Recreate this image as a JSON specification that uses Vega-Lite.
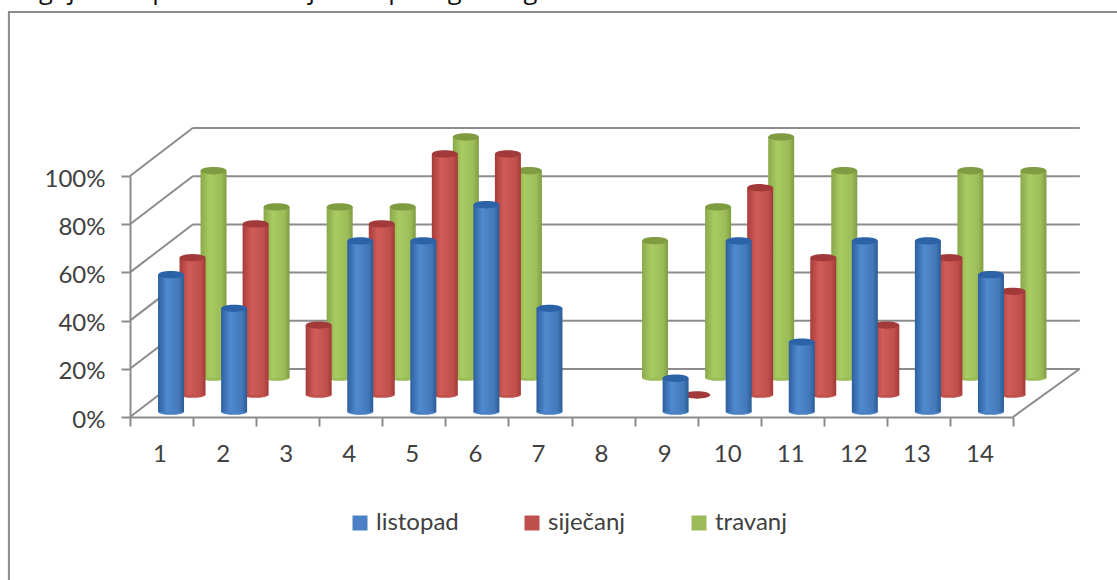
{"$schema":"https://vega.github.io/schema/vega-lite/v6.json","width":883,"height":241,"autosize":{"type":"none"},"padding":{"left":130,"top":176,"right":104,"bottom":163},"background":"white","view":{"stroke":null},
"title":{"text":"odgojne skupine rastao tijekom pedagoške godine.","anchor":"start","frame":"group","dx":-122,"offset":7,"font":"Open Sans","fontSize":25.5,"fontWeight":"normal","color":"#111111"},
"config":{"font":"Lato"},
"datasets":{
"bars":[
{"cat":"1","series":"listopad","pct":57},{"cat":"2","series":"listopad","pct":43},{"cat":"4","series":"listopad","pct":71},{"cat":"5","series":"listopad","pct":71},{"cat":"6","series":"listopad","pct":86},{"cat":"7","series":"listopad","pct":43},{"cat":"9","series":"listopad","pct":14},{"cat":"10","series":"listopad","pct":71},{"cat":"11","series":"listopad","pct":29},{"cat":"12","series":"listopad","pct":71},{"cat":"13","series":"listopad","pct":71},{"cat":"14","series":"listopad","pct":57},
{"cat":"1","series":"siječanj","pct":57},{"cat":"2","series":"siječanj","pct":71},{"cat":"3","series":"siječanj","pct":29},{"cat":"4","series":"siječanj","pct":71},{"cat":"5","series":"siječanj","pct":100},{"cat":"6","series":"siječanj","pct":100},{"cat":"9","series":"siječanj","pct":0},{"cat":"10","series":"siječanj","pct":86},{"cat":"11","series":"siječanj","pct":57},{"cat":"12","series":"siječanj","pct":29},{"cat":"13","series":"siječanj","pct":57},{"cat":"14","series":"siječanj","pct":43},
{"cat":"1","series":"travanj","pct":86},{"cat":"2","series":"travanj","pct":71},{"cat":"3","series":"travanj","pct":71},{"cat":"4","series":"travanj","pct":71},{"cat":"5","series":"travanj","pct":100},{"cat":"6","series":"travanj","pct":86},{"cat":"8","series":"travanj","pct":57},{"cat":"9","series":"travanj","pct":71},{"cat":"10","series":"travanj","pct":100},{"cat":"11","series":"travanj","pct":86},{"cat":"13","series":"travanj","pct":86},{"cat":"14","series":"travanj","pct":86}],
"grid":[{"p":0},{"p":20},{"p":40},{"p":60},{"p":80},{"p":100}],
"walls":[{"l":"a","d":0,"p":0},{"l":"a","d":1,"p":20},{"l":"b","d":0,"p":20},{"l":"b","d":1,"p":40},{"l":"c","d":0,"p":40},{"l":"c","d":1,"p":60},{"l":"d","d":0,"p":60},{"l":"d","d":1,"p":80},{"l":"e","d":0,"p":80},{"l":"e","d":1,"p":100},{"l":"f","d":0,"p":100},{"l":"f","d":1,"p":120},{"l":"g","d":14,"p":0},{"l":"g","d":15.06,"p":20}]},
"layer":[
{"layer":[
{"data":{"values":[{}]},"mark":{"type":"rect","fillOpacity":0,"stroke":"#8c8c8c","strokeWidth":2},"encoding":{"x":{"datum":-1.92,"type":"quantitative","scale":{"domain":[0,14],"nice":false,"zero":false},"axis":null},"x2":{"datum":16},"y":{"datum":168,"type":"quantitative","scale":{"domain":[0,100],"nice":false},"axis":{"values":[0,20,40,60,80,100],"labelExpr":"datum.value + '%'","domainColor":"#8c8c8c","domainWidth":2,"tickColor":"#8c8c8c","tickWidth":2,"tickSize":9,"labelPadding":16,"labelOffset":3,"labelFont":"Lato","labelFontSize":24,"labelColor":"#404040","grid":false,"title":null}},"y2":{"datum":-100}}},
{"data":{"name":"walls"},"mark":{"type":"line","color":"#8c8c8c","strokeWidth":2,"strokeCap":"butt"},"encoding":{"x":{"field":"d","type":"quantitative"},"y":{"field":"p","type":"quantitative"},"detail":{"field":"l"}}},
{"data":{"name":"grid"},"mark":{"type":"rule","color":"#8c8c8c","strokeWidth":2,"yOffset":-48},"encoding":{"x":{"datum":1,"type":"quantitative"},"x2":{"datum":15.06},"y":{"field":"p","type":"quantitative"}}}
]},
{"layer":[
{"data":{"name":"bars"},"transform":[{"filter":"datum.series === 'travanj'"}],"layer":[
{"mark":{"type":"point","filled":true,"opacity":1,"size":676,"xOffset":52,"yOffset":-39,"shape":"M-1,0 A1,0.22 0 1,0 1,0 A1,0.22 0 1,0 -1,0 Z"},"encoding":{"x":{"field":"cat","type":"nominal","sort":["1","2","3","4","5","6","7","8","9","10","11","12","13","14"],"scale":{"domain":["1","2","3","4","5","6","7","8","9","10","11","12","13","14"],"paddingInner":0,"paddingOuter":0},"axis":{"orient":"bottom","title":null,"labelAngle":0,"tickBand":"extent","domainColor":"#8c8c8c","domainWidth":2,"tickColor":"#8c8c8c","tickWidth":2,"tickSize":9,"labelPadding":16,"labelOffset":-2,"labelFont":"Lato","labelFontSize":24,"labelColor":"#404040"}},"y":{"datum":0,"type":"quantitative"},"color":{"field":"series","type":"nominal","scale":{"domain":["listopad","siječanj","travanj"],"range":["#4a80c4","#c0504d","#9bbb59"]},"legend":{"orient":"none","legendX":218,"legendY":335,"direction":"horizontal","columns":3,"title":null,"symbolType":"square","symbolSize":225,"symbolStrokeWidth":0,"symbolOpacity":1,"labelFont":"Lato","labelFontSize":24,"labelColor":"#404040","labelOffset":4,"columnPadding":61}}}},
{"mark":{"type":"bar","size":26,"xOffset":52,"yOffset":-39,"fill":{"x1":0,"x2":1,"y1":0,"y2":0,"gradient":"linear","stops":[{"offset":0,"color":"#8aa84a"},{"offset":0.35,"color":"#a8cc62"},{"offset":0.8,"color":"#9bbc58"},{"offset":1,"color":"#7f9c42"}]}},"encoding":{"x":{"field":"cat","type":"nominal"},"y":{"field":"pct","type":"quantitative"}}},
{"mark":{"type":"point","filled":true,"opacity":1,"size":676,"xOffset":52,"yOffset":-39,"color":"#7f9c42","shape":"M-1,0 A1,0.28 0 1,0 1,0 A1,0.28 0 1,0 -1,0 Z"},"encoding":{"x":{"field":"cat","type":"nominal"},"y":{"field":"pct","type":"quantitative"}}}
]},
{"data":{"name":"bars"},"transform":[{"filter":"datum.series === 'siječanj'"}],"layer":[
{"mark":{"type":"point","filled":true,"opacity":1,"size":676,"xOffset":31,"yOffset":-22,"shape":"M-1,0 A1,0.22 0 1,0 1,0 A1,0.22 0 1,0 -1,0 Z"},"encoding":{"x":{"field":"cat","type":"nominal"},"y":{"datum":0,"type":"quantitative"},"color":{"field":"series","type":"nominal"}}},
{"mark":{"type":"bar","size":26,"xOffset":31,"yOffset":-22,"fill":{"x1":0,"x2":1,"y1":0,"y2":0,"gradient":"linear","stops":[{"offset":0,"color":"#a83c3a"},{"offset":0.35,"color":"#d05c58"},{"offset":0.8,"color":"#c0504d"},{"offset":1,"color":"#a33a38"}]}},"encoding":{"x":{"field":"cat","type":"nominal"},"y":{"field":"pct","type":"quantitative"}}},
{"mark":{"type":"point","filled":true,"opacity":1,"size":676,"xOffset":31,"yOffset":-22,"color":"#a33a3a","shape":"M-1,0 A1,0.28 0 1,0 1,0 A1,0.28 0 1,0 -1,0 Z"},"encoding":{"x":{"field":"cat","type":"nominal"},"y":{"field":"pct","type":"quantitative"}}}
]},
{"data":{"name":"bars"},"transform":[{"filter":"datum.series === 'listopad'"}],"layer":[
{"mark":{"type":"point","filled":true,"opacity":1,"size":676,"xOffset":9.5,"yOffset":-5,"shape":"M-1,0 A1,0.22 0 1,0 1,0 A1,0.22 0 1,0 -1,0 Z"},"encoding":{"x":{"field":"cat","type":"nominal"},"y":{"datum":0,"type":"quantitative"},"color":{"field":"series","type":"nominal"}}},
{"mark":{"type":"bar","size":26,"xOffset":9.5,"yOffset":-5,"fill":{"x1":0,"x2":1,"y1":0,"y2":0,"gradient":"linear","stops":[{"offset":0,"color":"#2e5f9e"},{"offset":0.35,"color":"#4f8ad0"},{"offset":0.8,"color":"#4478b8"},{"offset":1,"color":"#2b5c96"}]}},"encoding":{"x":{"field":"cat","type":"nominal"},"y":{"field":"pct","type":"quantitative"}}},
{"mark":{"type":"point","filled":true,"opacity":1,"size":676,"xOffset":9.5,"yOffset":-5,"color":"#2c62a8","shape":"M-1,0 A1,0.28 0 1,0 1,0 A1,0.28 0 1,0 -1,0 Z"},"encoding":{"x":{"field":"cat","type":"nominal"},"y":{"field":"pct","type":"quantitative"}}}
]}
]}
],
"resolve":{"scale":{"x":"independent"}}}
